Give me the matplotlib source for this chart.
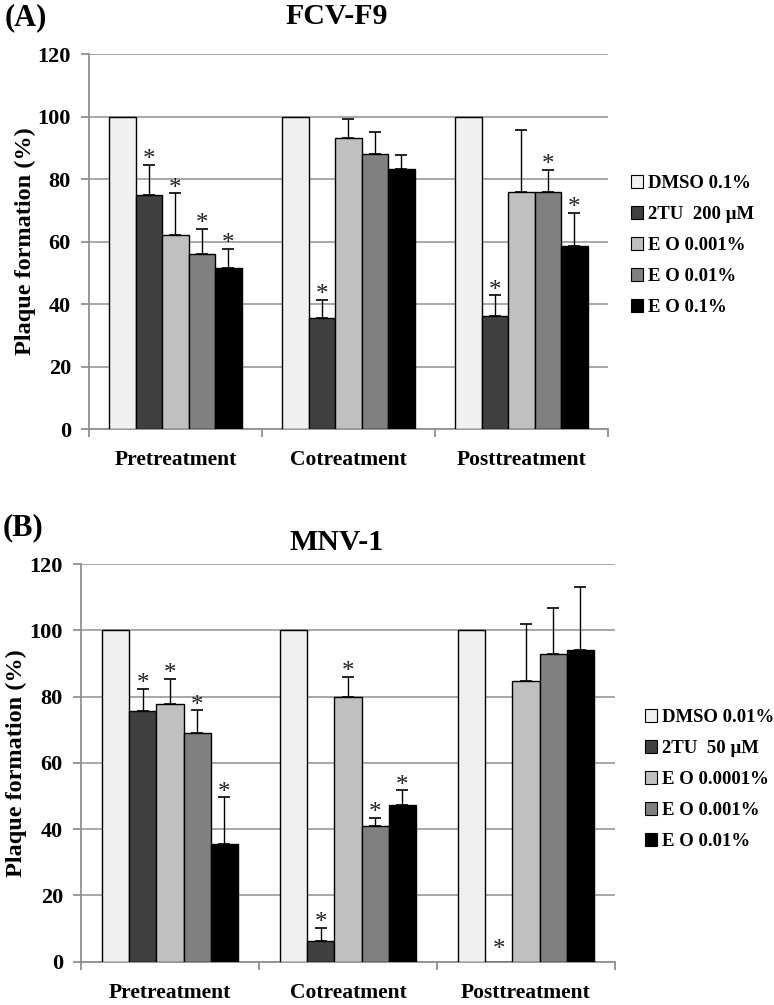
import matplotlib
matplotlib.use("Agg")
import matplotlib.pyplot as plt
import numpy as np
from matplotlib.patches import Patch

plt.rcParams['font.family'] = ['Liberation Serif', 'DejaVu Serif']
plt.rcParams['font.weight'] = 'bold'

categories = ['Pretreatment', 'Cotreatment', 'Posttreatment']
colors = ['#f0f0f0', '#404040', '#c0c0c0', '#808080', '#000000']

# panel A - FCV-F9
labels_a = ['DMSO 0.1%', '2TU  200 \u00b5M', 'E O 0.001%', 'E O 0.01%', 'E O 0.1%']
vals_a = [[100, 75, 62, 56, 51.6],
          [100, 35.4, 93, 88, 83.2],
          [100, 36.2, 75.8, 75.8, 58.7]]
errs_a = [[0, 9.6, 13.4, 8, 6],
          [0, 6, 6.2, 7, 4.4],
          [0, 6.6, 19.9, 7.2, 10.5]]
stars_a = [[0, 1, 1, 1, 1],
           [0, 1, 0, 0, 0],
           [0, 1, 0, 1, 1]]

# panel B - MNV-1
labels_b = ['DMSO 0.01%', '2TU  50 \u00b5M', 'E O 0.0001%', 'E O 0.001%', 'E O 0.01%']
vals_b = [[100, 75.7, 77.9, 69.1, 35.6],
          [100, 6.2, 79.9, 41, 47.3],
          [100, 0, 84.8, 92.8, 94.1]]
errs_b = [[0, 6.7, 7.4, 6.8, 14],
          [0, 4, 6.1, 2.5, 4.4],
          [0, 0, 17, 14, 18.9]]
stars_b = [[0, 1, 1, 1, 1],
           [0, 1, 1, 1, 1],
           [0, 1, 0, 0, 0]]

fig = plt.figure(figsize=(7.74, 10.05), dpi=100)


def panel(rect, vals, errs, stars, labels, leg_xy, ylab_x):
    ax = fig.add_axes(rect)
    w = 0.153
    x = np.arange(len(categories))
    vals = np.array(vals)
    errs = np.array(errs)
    for i in range(5):
        xs = x + (i - 2) * w
        ax.bar(xs, vals[:, i], w, color=colors[i], edgecolor='black', lw=1, zorder=3)
        e = errs[:, i]
        m = e > 0
        if m.any():
            ax.errorbar(xs[m], vals[m, i], yerr=[np.zeros(m.sum()), e[m]], fmt='none',
                        ecolor='black', elinewidth=1, capsize=4.5, capthick=1.2, zorder=4)
        for j in range(len(categories)):
            if stars[j][i]:
                off = -1 if vals[j, i] > 0 else 4
                ax.annotate('*', (xs[j], vals[j, i] + errs[j, i]), xytext=(0, off),
                            textcoords='offset points', ha='center', va='baseline',
                            fontsize=18, fontweight='normal', color='#202020', zorder=5)
    ax.set_xlim(-0.5, 2.5)
    ax.set_ylim(0, 120)
    ax.set_yticks(np.arange(0, 121, 20))
    ax.yaxis.grid(True, color='#a0a0a0', lw=1.3, zorder=0)
    ax.set_xticks([-0.5, 0.5, 1.5, 2.5])
    ax.set_xticklabels([])
    ax.set_xticks(x, minor=True)
    ax.set_xticklabels(categories, minor=True, fontsize=15.5, fontweight='bold')
    ax.tick_params(axis='x', which='minor', length=0, pad=15)
    ax.tick_params(axis='x', which='major', length=6, color='#909090', width=1.3)
    ax.tick_params(axis='y', length=6, color='#909090', width=1.3, labelsize=16, pad=7)
    for s in ['top', 'right']:
        ax.spines[s].set_visible(False)
    for s in ['left', 'bottom']:
        ax.spines[s].set_color('#909090')
        ax.spines[s].set_linewidth(1.3)
    ax.set_ylabel('Plaque formation (%)', fontsize=17.5, fontweight='bold', va='center')
    ax.yaxis.set_label_coords(ylab_x, 0.5)
    handles = [Patch(facecolor=c, edgecolor='black', lw=0.8) for c in colors]
    fig.legend(handles, labels, loc='upper left', bbox_to_anchor=leg_xy, frameon=False,
               fontsize=13.5, handlelength=0.65, handleheight=0.65, handletextpad=0.25,
               labelspacing=0.75, borderpad=0, borderaxespad=0)
    return ax


panel([89 / 774, 1 - 429 / 1005, 519 / 774, 375 / 1005], vals_a, errs_a, stars_a,
      labels_a, (631 / 774, 1 - 175 / 1005), -64 / 519)
panel([81 / 774, 1 - 961.7 / 1005, 534 / 774, 397.7 / 1005], vals_b, errs_b, stars_b,
      labels_b, (645 / 774, 1 - 709 / 1005), -65 / 534)

fig.text(5 / 774, 1 - 18 / 1005, '(A)', fontsize=22, fontweight='bold', va='center', ha='left')
fig.text(337 / 774, 1 - 16 / 1005, 'FCV-F9', fontsize=21.5, fontweight='bold', va='center', ha='center')
fig.text(3 / 774, 1 - 528 / 1005, '(B)', fontsize=22, fontweight='bold', va='center', ha='left')
fig.text(337 / 774, 1 - 542 / 1005, 'MNV-1', fontsize=21.5, fontweight='bold', va='center', ha='center')

fig.savefig('out.png', dpi=100)
